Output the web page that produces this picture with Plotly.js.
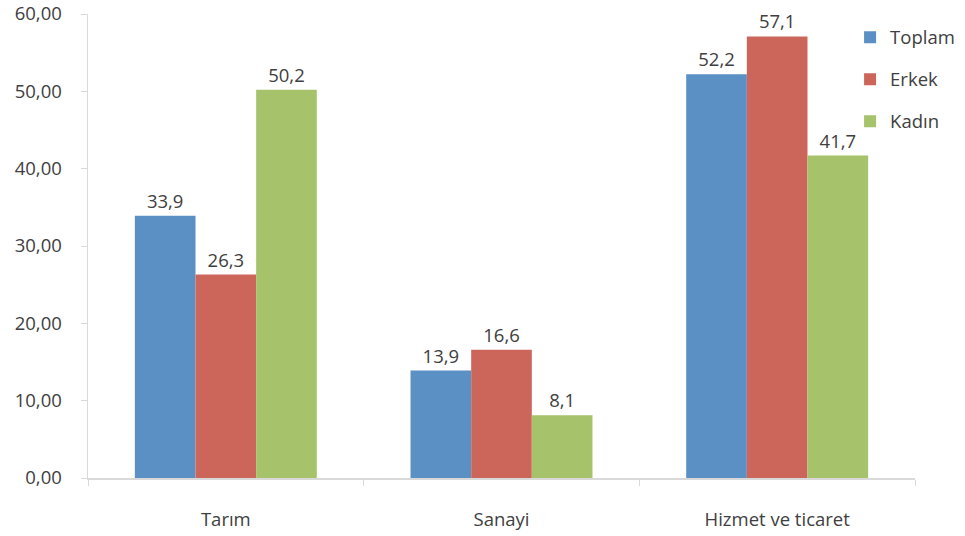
<!DOCTYPE html>
<html>
<head>
<meta charset="utf-8">
<script src="https://cdn.plot.ly/plotly-3.0.1.min.js"></script>
<style>html,body{margin:0;padding:0;background:#fff;}#chart{width:965px;height:536px;}</style>
</head>
<body>
<div id="chart"></div>
<script>
const categories = ["Tarım", "Sanayi", "Hizmet ve ticaret"];
const seriesNames = ["Toplam", "Erkek", "Kadın"];
const toplam = [33.9, 13.9, 52.2];
const erkek = [26.3, 16.6, 57.1];
const kadin = [50.2, 8.1, 41.7];
const yTicks = [0, 10, 20, 30, 40, 50, 60];

const colors = ["#5B90C4", "#CC665B", "#A6C26B"];
const values = [toplam, erkek, kadin];
const fontFam = "Open Sans, Liberation Sans, sans-serif";

const traces = values.map((v, i) => ({
  type: "bar",
  name: seriesNames[i],
  legendgroup: seriesNames[i],
  x: categories,
  y: v,
  marker: {color: colors[i], line: {width: 0}},
  text: v,
  texttemplate: "%{y:.1f}",
  textposition: "outside",
  cliponaxis: false,
  textfont: {family: fontFam, size: 18.5, color: "#404040"},
  hoverinfo: "skip"
}));

const layout = {
  width: 965, height: 536,
  margin: {l: 88, r: 50, t: 14, b: 58, autoexpand: false},
  paper_bgcolor: "#fff", plot_bgcolor: "#fff",
  separators: ",.",
  barmode: "group",
  bargap: 0.34,
  bargroupgap: 0,
  showlegend: true,
  legend: {
    x: 0.9215, y: 0.99, xanchor: "left", yanchor: "top",
    font: {family: fontFam, size: 18.5, color: "#404040"},
    tracegroupgap: 15,
    bgcolor: "rgba(0,0,0,0)",
    itemwidth: 30
  },
  xaxis: {
    type: "category",
    showline: true, linecolor: "#d9d9d9", linewidth: 1.5,
    ticks: "outside", tickson: "boundaries", ticklen: 6, tickcolor: "#d9d9d9",
    ticklabelstandoff: 24,
    showgrid: false, zeroline: false,
    tickfont: {family: fontFam, size: 18.5, color: "#404040"}
  },
  yaxis: {
    range: [0, 60],
    tickvals: yTicks,
    tickformat: ".2f",
    showline: true, linecolor: "#d9d9d9", linewidth: 1.5,
    ticks: "outside", ticklen: 6, tickcolor: "#d9d9d9",
    ticklabelstandoff: 15,
    showgrid: false, zeroline: false,
    tickfont: {family: fontFam, size: 18.5, color: "#404040"}
  }
};

Plotly.newPlot("chart", traces, layout, {displayModeBar: false, staticPlot: true});
</script>
</body>
</html>
